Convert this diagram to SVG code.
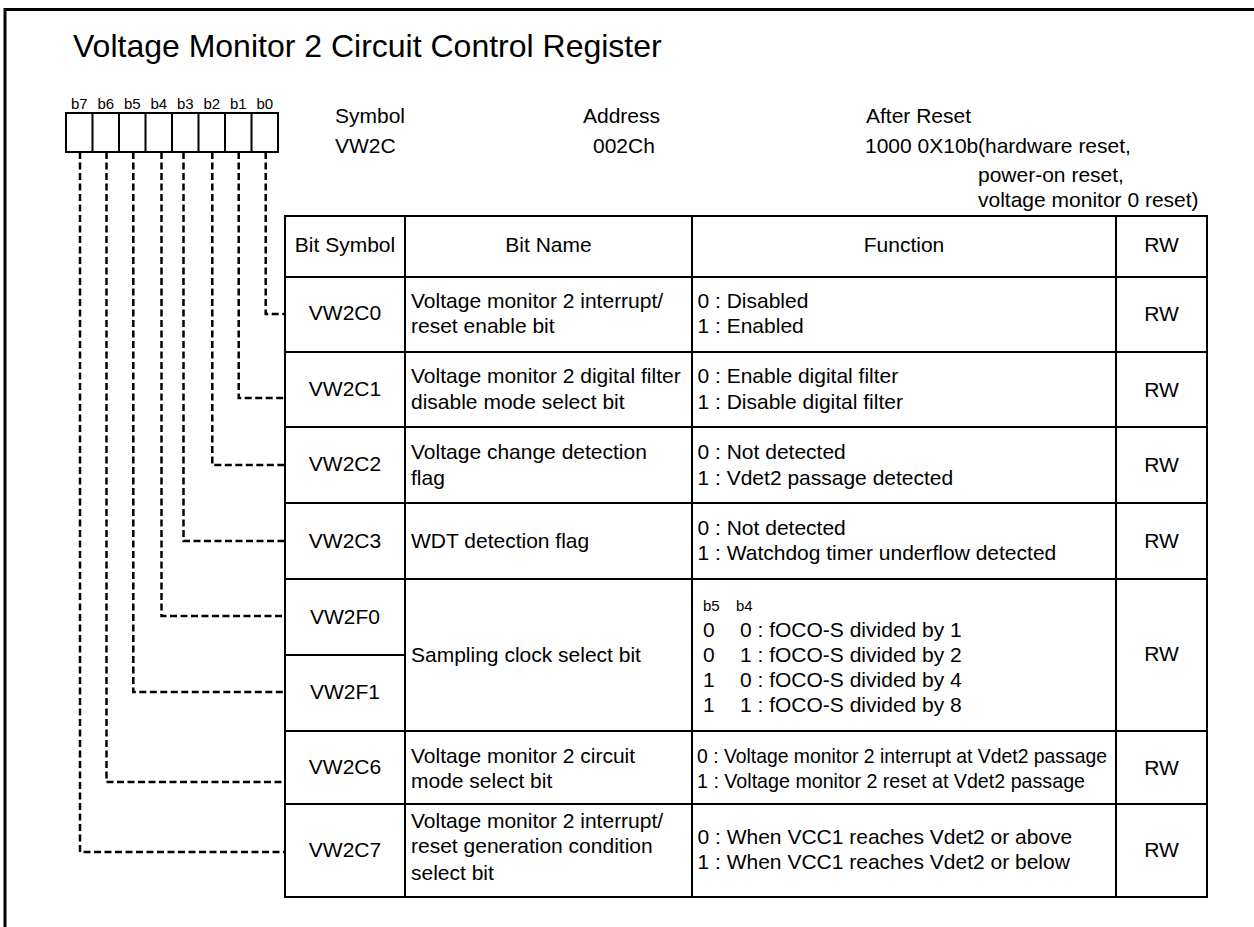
<svg xmlns="http://www.w3.org/2000/svg" width="1254" height="927" viewBox="0 0 1254 927">
<style>
text{font-family:"Liberation Sans",Arial,sans-serif;font-size:21px;fill:#000}
.t{font-size:32px}
.s{font-size:15px}
.c{text-anchor:middle}
.ln{stroke:#000;stroke-width:2;fill:none}
.d{stroke:#000;stroke-width:2.5;fill:none;stroke-dasharray:7 3.5}
</style>
<rect width="1254" height="927" fill="#fff"/>
<path d="M5,927 V9.5 H1254" stroke="#000" stroke-width="3" fill="none"/>
<text class="t" x="73" y="57">Voltage Monitor 2 Circuit Control Register</text>

<g id="register">
<rect class="ln" x="66" y="113" width="212" height="39"/>
<path class="ln" d="M92.5,113V152M119,113V152M145.5,113V152M172,113V152M198.5,113V152M225,113V152M251.5,113V152"/>
<text class="s c" x="79.3" y="109">b7</text>
<text class="s c" x="105.8" y="109">b6</text>
<text class="s c" x="132.3" y="109">b5</text>
<text class="s c" x="158.8" y="109">b4</text>
<text class="s c" x="185.3" y="109">b3</text>
<text class="s c" x="211.8" y="109">b2</text>
<text class="s c" x="238.3" y="109">b1</text>
<text class="s c" x="264.8" y="109">b0</text>
</g>

<g id="info">
<text x="335" y="123">Symbol</text>
<text x="335" y="153">VW2C</text>
<text x="583" y="123">Address</text>
<text x="593" y="153">002Ch</text>
<text x="866" y="123">After Reset</text>
<text x="865" y="153">1000 0X10b</text>
<text x="978" y="153">(hardware reset,</text>
<text x="978" y="182">power-on reset,</text>
<text x="978" y="207">voltage monitor 0 reset)</text>
</g>

<g id="connectors">
<path class="d" d="M265.7,152V314H285"/>
<path class="d" d="M238.7,152V398H285"/>
<path class="d" d="M212.3,152V465H285"/>
<path class="d" d="M183.5,152V541H285"/>
<path class="d" d="M161.5,152V616H285"/>
<path class="d" d="M133.3,152V692H285"/>
<path class="d" d="M106.5,152V782H285"/>
<path class="d" d="M80,152V852H285"/>
</g>

<g id="table">
<rect class="ln" x="285" y="216" width="922" height="681"/>
<path class="ln" d="M285,277H1207M285,352H1207M285,427H1207M285,503H1207M285,579H1207M285,731H1207M285,804H1207M285,655H405M405,216V897M692,216V897M1116,216V897"/>
</g>

<g id="header">
<text class="c" x="345" y="252">Bit Symbol</text>
<text class="c" x="548.5" y="252">Bit Name</text>
<text class="c" x="904" y="252">Function</text>
<text class="c" x="1161.5" y="252">RW</text>
</g>

<g id="row-vw2c0">
<text class="c" x="345" y="320">VW2C0</text>
<text x="411" y="307.5">Voltage monitor 2 interrupt/</text>
<text x="411" y="333">reset enable bit</text>
<text x="697.5" y="307.5">0 : Disabled</text>
<text x="697.5" y="333">1 : Enabled</text>
<text class="c" x="1161.5" y="320.5">RW</text>
</g>

<g id="row-vw2c1">
<text class="c" x="345" y="395.5">VW2C1</text>
<text x="411" y="383">Voltage monitor 2 digital filter</text>
<text x="411" y="408.5">disable mode select bit</text>
<text x="697.5" y="383">0 : Enable digital filter</text>
<text x="697.5" y="408.5">1 : Disable digital filter</text>
<text class="c" x="1161.5" y="396.5">RW</text>
</g>

<g id="row-vw2c2">
<text class="c" x="345" y="471">VW2C2</text>
<text x="411" y="459">Voltage change detection</text>
<text x="411" y="484.5">flag</text>
<text x="697.5" y="459">0 : Not detected</text>
<text x="697.5" y="484.5">1 : Vdet2 passage detected</text>
<text class="c" x="1161.5" y="472">RW</text>
</g>

<g id="row-vw2c3">
<text class="c" x="345" y="548">VW2C3</text>
<text x="411" y="548">WDT detection flag</text>
<text x="697.5" y="535">0 : Not detected</text>
<text x="697.5" y="560">1 : Watchdog timer underflow detected</text>
<text class="c" x="1161.5" y="548">RW</text>
</g>

<g id="row-vw2f">
<text class="c" x="345" y="623.5">VW2F0</text>
<text class="c" x="345" y="698.5">VW2F1</text>
<text x="411" y="661.5">Sampling clock select bit</text>
<text class="s" x="703" y="610.5">b5</text>
<text class="s" x="736" y="610.5">b4</text>
<text x="703" y="636.5">0</text>
<text x="740" y="636.5">0 : fOCO-S divided by 1</text>
<text x="703" y="661.5">0</text>
<text x="740" y="661.5">1 : fOCO-S divided by 2</text>
<text x="703" y="686.5">1</text>
<text x="740" y="686.5">0 : fOCO-S divided by 4</text>
<text x="703" y="711.5">1</text>
<text x="740" y="711.5">1 : fOCO-S divided by 8</text>
<text class="c" x="1161.5" y="661">RW</text>
</g>

<g id="row-vw2c6">
<text class="c" x="345" y="774">VW2C6</text>
<text x="411" y="762.5">Voltage monitor 2 circuit</text>
<text x="411" y="787.5">mode select bit</text>
<text x="697" y="762.5" textLength="410" lengthAdjust="spacingAndGlyphs">0 : Voltage monitor 2 interrupt at Vdet2 passage</text>
<text x="697" y="787.5" textLength="388" lengthAdjust="spacingAndGlyphs">1 : Voltage monitor 2 reset at Vdet2 passage</text>
<text class="c" x="1161.5" y="775">RW</text>
</g>

<g id="row-vw2c7">
<text class="c" x="345" y="857">VW2C7</text>
<text x="411" y="827.5">Voltage monitor 2 interrupt/</text>
<text x="411" y="853">reset generation condition</text>
<text x="411" y="880">select bit</text>
<text x="697.5" y="843.5">0 : When VCC1 reaches Vdet2 or above</text>
<text x="697.5" y="868.5">1 : When VCC1 reaches Vdet2 or below</text>
<text class="c" x="1161.5" y="857">RW</text>
</g>
</svg>
